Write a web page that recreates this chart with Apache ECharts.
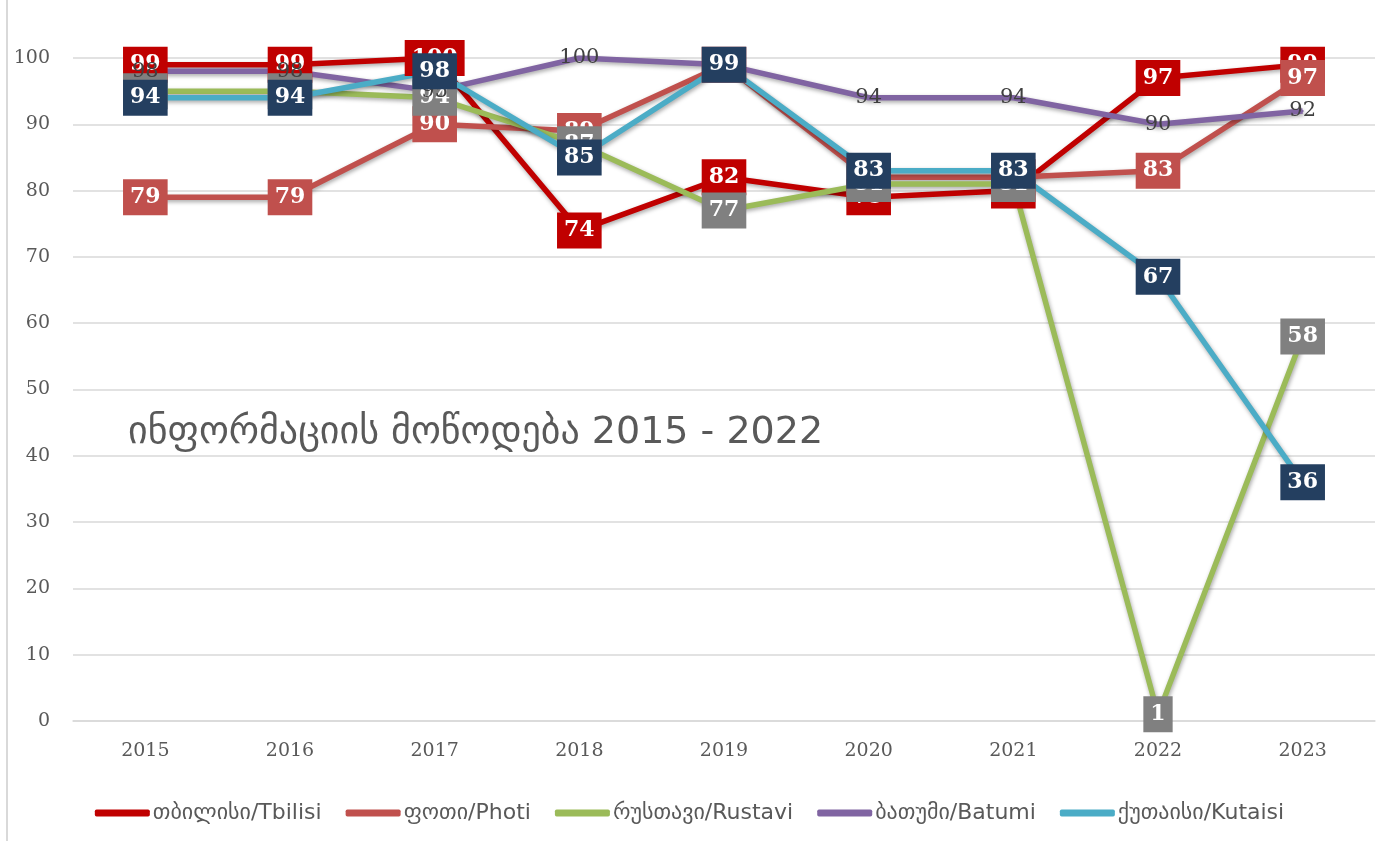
<!DOCTYPE html>
<html>
<head>
<meta charset="utf-8">
<script src="https://cdn.jsdelivr.net/npm/echarts@6/dist/echarts.min.js"></script>
<style>
  html, body { margin: 0; padding: 0; background: #fff; }
  #chart { width: 1379px; height: 841px; }
</style>
</head>
<body>
<div id="chart"></div>
<script>
const years = ['2015', '2016', '2017', '2018', '2019', '2020', '2021', '2022', '2023'];
const tbilisi = [99, 99, 100, 74, 82, 79, 80, 97, 99];
const poti = [79, 79, 90, 89, 99, 82, 82, 83, 97];
const rustavi = [95, 95, 94, 87, 77, 81, 81, 1, 58];
const batumi = [98, 98, 95, 100, 99, 94, 94, 90, 92];
const kutaisi = [94, 94, 98, 85, 99, 83, 83, 67, 36];
const yTicks = [0, 10, 20, 30, 40, 50, 60, 70, 80, 90, 100];

const chart = echarts.init(document.getElementById('chart'));

// boxed white label, box colour differs per series
function boxLabel(bg) {
  return {
    show: true,
    position: 'inside',
    color: '#fff',
    fontFamily: 'DejaVu Serif',
    fontWeight: 'bold',
    fontSize: 22,
    lineHeight: 24,
    backgroundColor: bg,
    padding: [6, 7, 6, 7]
  };
}

function lineSeries(name, color, data, label) {
  return {
    name: name,
    type: 'line',
    data: data,
    symbol: 'circle',
    symbolSize: 2,
    itemStyle: { color: color },
    lineStyle: {
      width: 5.5,
      color: color,
      shadowColor: 'rgba(0,0,0,0.35)',
      shadowBlur: 4,
      shadowOffsetX: 1,
      shadowOffsetY: 2
    },
    label: label,
    emphasis: { disabled: true },
    animation: false
  };
}

chart.setOption({
  animation: false,
  grid: { left: 73, right: 4, top: 58, bottom: 120 },
  legend: {
    top: 797,
    left: 'center',
    icon: 'roundRect',
    itemWidth: 55,
    itemHeight: 7,
    itemGap: 24,
    textStyle: { color: '#595959', fontFamily: 'DejaVu Sans', fontSize: 22, padding: [0, 0, 0, -2] }
  },
  graphic: [
    {
      type: 'text',
      left: 128,
      top: 414,
      style: {
        text: 'ინფორმაციის მოწოდება 2015 - 2022',
        fill: '#595959',
        font: '38px "DejaVu Sans"'
      }
    },
    {
      type: 'line',
      shape: { x1: 7, y1: 0, x2: 7, y2: 841 },
      style: { stroke: '#d9d9d9', lineWidth: 2 }
    }
  ],
  xAxis: {
    type: 'category',
    data: years,
    axisLine: { show: true, lineStyle: { color: '#d9d9d9', width: 1.5 } },
    axisTick: { show: false },
    axisLabel: { color: '#595959', fontFamily: 'DejaVu Serif', fontSize: 19, margin: 21 }
  },
  yAxis: {
    type: 'value',
    min: yTicks[0],
    max: yTicks[yTicks.length - 1],
    interval: 10,
    axisLine: { show: false },
    axisTick: { show: false },
    splitLine: { lineStyle: { color: '#d9d9d9', width: 1.5 } },
    axisLabel: { color: '#595959', fontFamily: 'DejaVu Serif', fontSize: 19, margin: 23 }
  },
  series: [
    lineSeries('თბილისი/Tbilisi', '#C00000', tbilisi, boxLabel('#C00000')),
    lineSeries('ფოთი/Photi', '#C0504D', poti, boxLabel('#C0504D')),
    lineSeries('რუსთავი/Rustavi', '#9BBB59', rustavi, boxLabel('#808080')),
    lineSeries('ბათუმი/Batumi', '#8064A2', batumi, {
      show: true,
      position: 'inside',
      color: '#404040',
      fontFamily: 'DejaVu Serif',
      fontSize: 21
    }),
    lineSeries('ქუთაისი/Kutaisi', '#4BACC6', kutaisi, boxLabel('#243F60'))
  ]
});
</script>
</body>
</html>
